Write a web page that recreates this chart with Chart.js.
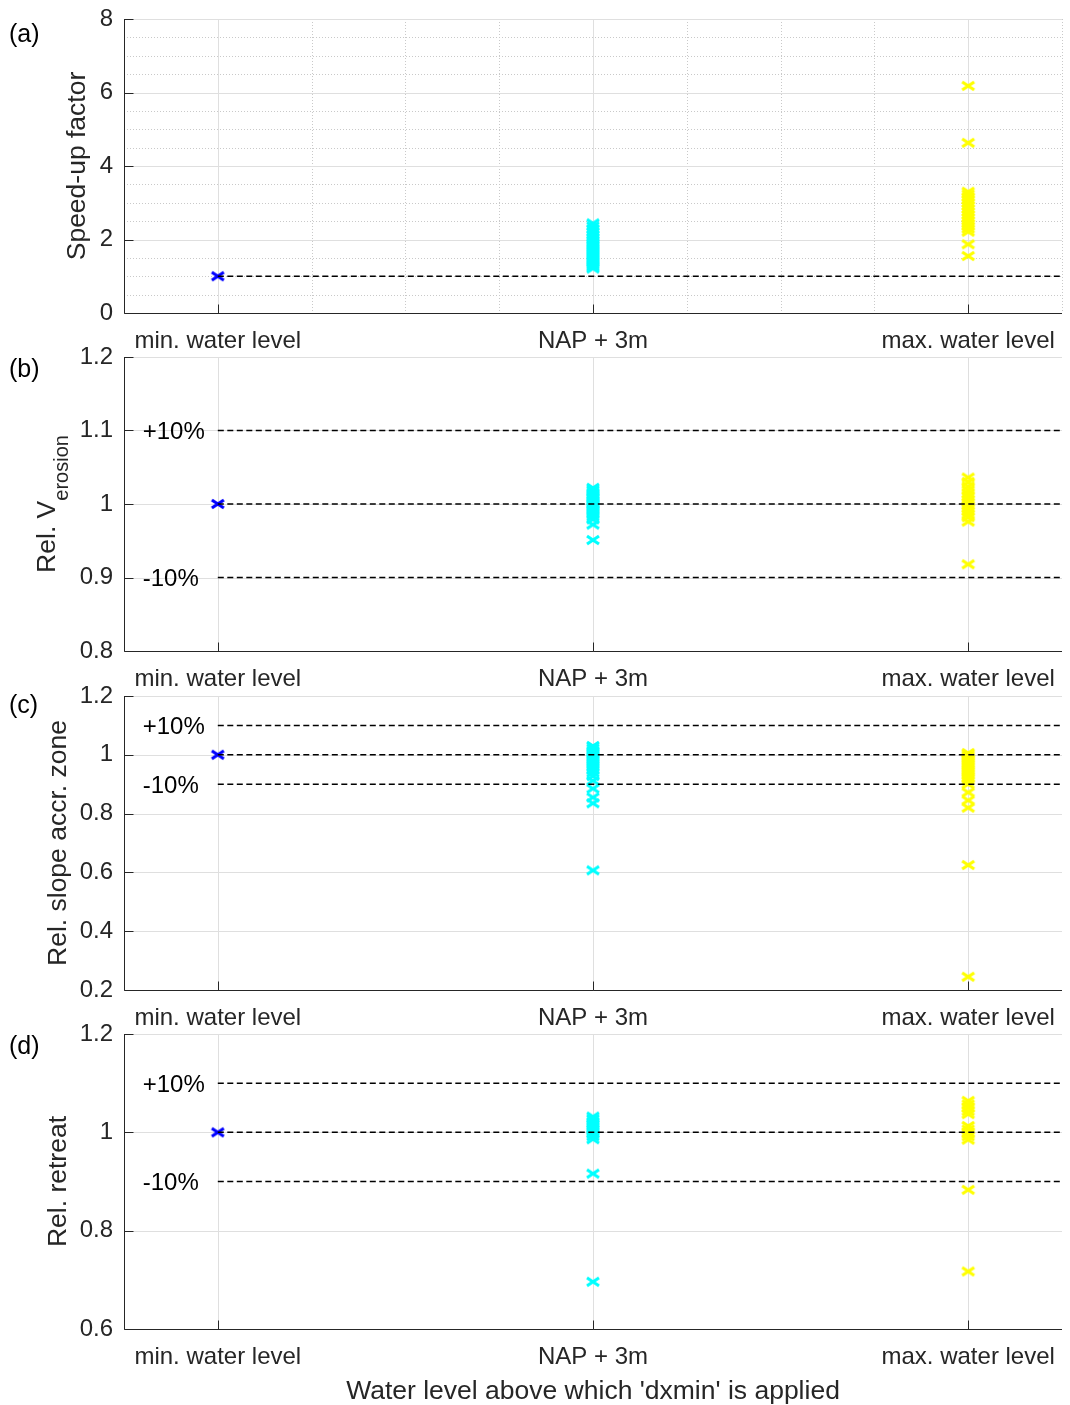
<!DOCTYPE html>
<html>
<head>
<meta charset="utf-8">
<title>dxmin water level sensitivity</title>
<script src="https://cdn.jsdelivr.net/npm/chart.js@4.4.1/dist/chart.umd.min.js"></script>
<style>
  body { margin: 0; background: #fff; }
  #wrap { position: relative; width: 1070px; height: 1405px; }
  #wrap canvas { position: absolute; left: 0; }
</style>
</head>
<body>
<div id="wrap">
  <canvas id="panel-a" width="1070" height="357" style="top:0px"></canvas>
  <canvas id="panel-b" width="1070" height="357" style="top:338px"></canvas>
  <canvas id="panel-c" width="1070" height="357" style="top:677px"></canvas>
  <canvas id="panel-d" width="1070" height="390" style="top:1015px"></canvas>
</div>
<script>
// x positions 1..3, one per water level setting
const categories = ["min. water level", "NAP + 3m", "max. water level"];
const xTickValues = [1, 2, 3];

// (a) speed-up factor
const speedMin = [1.0];
const speedNap = [2.44, 2.36, 2.28, 2.2, 2.12, 2.05, 1.98, 1.91, 1.85, 1.79, 1.73, 1.67, 1.61, 1.55, 1.49, 1.43, 1.37, 1.31, 1.26, 1.21];
const speedMax = [6.18, 4.63, 3.3, 3.23, 3.16, 3.08, 2.99, 2.91, 2.83, 2.75, 2.67, 2.59, 2.51, 2.43, 2.36, 2.29, 2.21, 1.87, 1.55];
const speedTicks = [0, 2, 4, 6, 8];

// (b) relative erosion volume
const erosionMin = [1.0];
const erosionNap = [1.022, 1.019, 1.016, 1.013, 1.01, 1.008, 1.005, 1.003, 1.0, 0.998, 0.995, 0.992, 0.989, 0.986, 0.983, 0.979, 0.972, 0.951];
const erosionMax = [1.036, 1.03, 1.024, 1.019, 1.014, 1.01, 1.006, 1.002, 0.998, 0.994, 0.99, 0.986, 0.982, 0.976, 0.918];
const erosionTicks = [0.8, 0.9, 1, 1.1, 1.2];

// (c) relative slope of the accretion zone
const slopeMin = [1.0];
const slopeNap = [1.03, 1.022, 1.014, 1.006, 0.998, 0.99, 0.982, 0.974, 0.966, 0.958, 0.95, 0.94, 0.928, 0.912, 0.885, 0.855, 0.835, 0.607];
const slopeMax = [1.006, 1.0, 0.993, 0.985, 0.977, 0.969, 0.961, 0.953, 0.945, 0.937, 0.929, 0.921, 0.912, 0.9, 0.872, 0.845, 0.82, 0.625, 0.245];
const slopeTicks = [0.2, 0.4, 0.6, 0.8, 1, 1.2];

// (d) relative retreat
const retreatMin = [1.0];
const retreatNap = [1.032, 1.027, 1.022, 1.017, 1.012, 1.007, 1.002, 0.997, 0.992, 0.986, 0.916, 0.696];
const retreatMax = [1.064, 1.057, 1.05, 1.043, 1.037, 1.013, 1.006, 0.999, 0.992, 0.985, 0.883, 0.717];
const retreatTicks = [0.6, 0.8, 1, 1.2];

// dashed reference levels and their labels
const baseLine = [1];
const bandLines = [1.1, 1, 0.9];
const bandLabels = [{ y: 1.1, text: "+10%" }, { y: 0.9, text: "-10%" }];

const FONT = '"Liberation Sans", Arial, Helvetica, sans-serif';
const INK = '#262626';
const seriesColors = ['#0000ff', '#00ffff', '#ffff00'];

function crossMarker(color) {
  const c = document.createElement('canvas');
  c.width = 16;
  c.height = 12;
  const g = c.getContext('2d');
  g.strokeStyle = color;
  g.lineWidth = 3.2;
  g.beginPath();
  g.moveTo(2, 2); g.lineTo(14, 10);
  g.moveTo(14, 2); g.lineTo(2, 10);
  g.stroke();
  return c;
}
const markers = seriesColors.map(crossMarker);

const px = v => Math.round(v) + 0.5;

// grid, axes, labels and titles drawn the MATLAB way
const decorations = {
  id: 'decorations',
  beforeDatasetsDraw(chart, args, o) {
    const { ctx, chartArea: a, scales: { x, y } } = chart;
    ctx.save();
    ctx.lineWidth = 1;
    if (o.minor) {
      ctx.strokeStyle = '#c9c9c9';
      ctx.setLineDash([1, 2]);
      for (let v = y.min; v <= y.max + 1e-9; v += o.minor.y) {
        const yy = px(y.getPixelForValue(v));
        ctx.beginPath(); ctx.moveTo(a.left, yy); ctx.lineTo(a.right, yy); ctx.stroke();
      }
      for (let v = x.min + o.minor.x; v <= x.max + 1e-9; v += o.minor.x) {
        const xx = px(x.getPixelForValue(v));
        ctx.beginPath(); ctx.moveTo(xx, a.top); ctx.lineTo(xx, a.bottom); ctx.stroke();
      }
      ctx.setLineDash([]);
    }
    ctx.strokeStyle = '#dfdfdf';
    y.ticks.forEach(t => {
      const yy = px(y.getPixelForValue(t.value));
      ctx.beginPath(); ctx.moveTo(a.left, yy); ctx.lineTo(a.right, yy); ctx.stroke();
    });
    x.ticks.forEach(t => {
      const xx = px(x.getPixelForValue(t.value));
      ctx.beginPath(); ctx.moveTo(xx, a.top); ctx.lineTo(xx, a.bottom); ctx.stroke();
    });
    ctx.restore();
  },
  afterDraw(chart, args, o) {
    const { ctx, chartArea: a, scales: { x, y } } = chart;
    ctx.save();
    // axis lines and inward ticks
    ctx.strokeStyle = INK;
    ctx.lineWidth = 1;
    const L = px(a.left), B = px(a.bottom);
    ctx.beginPath();
    ctx.moveTo(L, a.top); ctx.lineTo(L, B); ctx.lineTo(a.right, B);
    y.ticks.forEach(t => {
      const yy = px(y.getPixelForValue(t.value));
      ctx.moveTo(L, yy); ctx.lineTo(L + 9, yy);
    });
    x.ticks.forEach(t => {
      const xx = px(x.getPixelForValue(t.value));
      ctx.moveTo(xx, B); ctx.lineTo(xx, B - 9);
    });
    ctx.stroke();

    ctx.fillStyle = '#000';
    // +/-10 % tags next to the dashed lines
    (o.bands || []).forEach(b => {
      ctx.font = '24px ' + FONT;
      ctx.textAlign = 'left';
      ctx.textBaseline = 'middle';
      ctx.fillText(b.text, x.getPixelForValue(0.8), y.getPixelForValue(b.y) + 2);
    });

    // panel letter
    ctx.font = '25px ' + FONT;
    ctx.textAlign = 'left';
    ctx.textBaseline = 'middle';
    ctx.fillText(o.letter, 9, o.letterY);

    // y axis title, rotated, optional subscript
    ctx.fillStyle = INK;
    ctx.translate(o.titleX, (a.top + a.bottom) / 2);
    ctx.rotate(-Math.PI / 2);
    ctx.textAlign = 'left';
    ctx.textBaseline = 'alphabetic';
    ctx.font = '26.5px ' + FONT;
    const w1 = ctx.measureText(o.title).width;
    let w2 = 0;
    if (o.sub) {
      ctx.font = '20px ' + FONT;
      w2 = ctx.measureText(o.sub).width;
    }
    const start = -(w1 + w2) / 2;
    ctx.font = '26.5px ' + FONT;
    ctx.fillText(o.title, start, 0);
    if (o.sub) {
      ctx.font = '20px ' + FONT;
      ctx.fillText(o.sub, start + w1, 13);
    }
    ctx.restore();

    if (o.xTitle) {
      ctx.save();
      ctx.fillStyle = INK;
      ctx.font = '26.5px ' + FONT;
      ctx.textAlign = 'center';
      ctx.textBaseline = 'middle';
      ctx.fillText(o.xTitle, (a.left + a.right) / 2, o.xTitleY);
      ctx.restore();
    }
  }
};

function makePanel(canvasId, p) {
  const datasets = [];
  p.refLines.forEach(v => datasets.push({
    type: 'line',
    data: [{ x: 1, y: v }, { x: 3.25, y: v }],
    borderColor: '#000',
    borderWidth: 1.5,
    borderDash: [6, 3.5],
    pointRadius: 0,
    fill: false,
    order: 0
  }));
  p.series.forEach((vals, i) => datasets.push({
    type: 'scatter',
    data: vals.map(v => ({ x: xTickValues[i], y: v })),
    pointStyle: markers[i],
    pointRadius: 6,
    order: 1
  }));

  return new Chart(document.getElementById(canvasId), {
    type: 'scatter',
    data: { datasets },
    plugins: [decorations],
    options: {
      responsive: false,
      animation: false,
      events: [],
      layout: { padding: { top: 19, left: 0, right: 8, bottom: 0 } },
      plugins: {
        legend: { display: false },
        tooltip: { enabled: false },
        decorations: {
          minor: p.minor || null,
          bands: p.bands || [],
          letter: p.letter,
          letterY: p.letterY,
          title: p.title,
          sub: p.sub || '',
          titleX: p.titleX,
          xTitle: p.xTitle || '',
          xTitleY: p.xTitleY || 0
        }
      },
      scales: {
        x: {
          type: 'linear',
          min: 0.75,
          max: 3.25,
          afterBuildTicks: s => { s.ticks = xTickValues.map(v => ({ value: v })); },
          afterFit: s => {
            s.height = p.xHeight;
            s.paddingLeft = 0;
            s.paddingRight = 0;
          },
          ticks: {
            callback: v => categories[v - 1],
            font: { family: FONT, size: 24 },
            color: INK,
            padding: 14,
            maxRotation: 0,
            autoSkip: false
          },
          grid: { display: false, drawTicks: false },
          border: { display: false }
        },
        y: {
          type: 'linear',
          min: p.yTicks[0],
          max: p.yTicks[p.yTicks.length - 1],
          afterBuildTicks: s => { s.ticks = p.yTicks.map(v => ({ value: v })); },
          afterFit: s => {
            s.width = 124;
            s.paddingTop = 0;
            s.paddingBottom = 0;
          },
          ticks: {
            callback: v => String(v),
            font: { family: FONT, size: 24 },
            color: INK,
            padding: 11
          },
          grid: { display: false, drawTicks: false },
          border: { display: false }
        }
      }
    }
  });
}

makePanel('panel-a', {
  series: [speedMin, speedNap, speedMax],
  yTicks: speedTicks,
  refLines: baseLine,
  minor: { x: 0.25, y: 0.5 },
  letter: '(a)', letterY: 35,
  title: 'Speed-up factor', titleX: 85,
  xHeight: 44
});

makePanel('panel-b', {
  series: [erosionMin, erosionNap, erosionMax],
  yTicks: erosionTicks,
  refLines: bandLines,
  bands: bandLabels,
  letter: '(b)', letterY: 32,
  title: 'Rel. V', sub: 'erosion', titleX: 55,
  xHeight: 44
});

makePanel('panel-c', {
  series: [slopeMin, slopeNap, slopeMax],
  yTicks: slopeTicks,
  refLines: bandLines,
  bands: bandLabels,
  letter: '(c)', letterY: 29,
  title: 'Rel. slope accr. zone', titleX: 66,
  xHeight: 44
});

makePanel('panel-d', {
  series: [retreatMin, retreatNap, retreatMax],
  yTicks: retreatTicks,
  refLines: bandLines,
  bands: bandLabels,
  letter: '(d)', letterY: 32,
  title: 'Rel. retreat', titleX: 66,
  xTitle: "Water level above which 'dxmin' is applied", xTitleY: 377,
  xHeight: 76
});
</script>
</body>
</html>
